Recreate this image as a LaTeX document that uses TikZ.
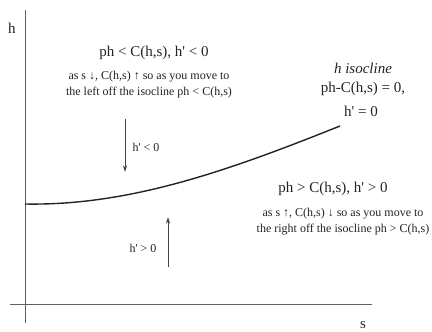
\documentclass[tikz,border=0pt]{standalone}
\usepackage{fontspec}
\setmainfont{Liberation Serif}
\usetikzlibrary{arrows.meta}
\definecolor{ink}{RGB}{35,35,35}
\definecolor{axisgray}{RGB}{95,95,95}
\newcommand{\hpr}{h\textquotesingle}
\tikzset{
  >={Stealth[length=2.4mm,width=1.5mm]},
  axis/.style={draw=axisgray,line width=0.9pt},
  isocline/.style={draw=ink,line width=1.4pt},
  flow/.style={->,draw=ink!85,line width=0.8pt},
  big/.style={font=\fontsize{15}{18}\selectfont,text=ink,align=center},
  note/.style={font=\fontsize{12}{16}\selectfont,text=ink,align=center},
  lbl/.style={font=\fontsize{12}{14}\selectfont,text=ink},
}
\begin{document}
\begin{tikzpicture}[x=1pt,y=-1pt]
  \useasboundingbox (0,0) rectangle (432,332);
  % axes
  \coordinate (ytop) at (25,10);
  \coordinate (ybot) at (25,323);
  \coordinate (xleft) at (10,304);
  \coordinate (xright) at (372,304);
  \draw[axis] (ybot) -- (ytop);
  \draw[axis] (xleft) -- (xright);
  \node[big] (hax) at (12,28) {h};
  \node[big] (sax) at (363,325) {s};
  % isocline
  \coordinate (iso0) at (25,204);
  \coordinate (iso1) at (340,126);
  \draw[isocline] (iso0) .. controls (130,206) and (230,170) .. (iso1);
  \node[big] (isoname) at (363,68) {\textit{h isocline}};
  \node[big] (isoeq) at (363,89) {ph-C(h,s) = 0,};
  \node[big] (isoh) at (361,111) {\hpr{} = 0};
  % region above
  \node[big] (upper) at (154,53) {ph < C(h,s), \hpr{} < 0};
  \node[note] (uppernote) at (149,85) {as s ↓, C(h,s) ↑ so as you move to\\the left off the isocline ph < C(h,s)};
  \coordinate (dn0) at (125,119);
  \coordinate (dn1) at (125,172);
  \draw[flow] (dn0) -- (dn1);
  \node[lbl] (dnlab) at (146,147) {\hpr{} < 0};
  % region below
  \node[big] (lower) at (333,189) {ph > C(h,s), \hpr{} > 0};
  \node[note] (lowernote) at (343,222) {as s ↑, C(h,s) ↓ so as you move to\\the right off the isocline ph > C(h,s)};
  \coordinate (up0) at (168,267);
  \coordinate (up1) at (168,217);
  \draw[flow] (up0) -- (up1);
  \node[lbl] (uplab) at (143,248) {\hpr{} > 0};
\end{tikzpicture}
\end{document}
